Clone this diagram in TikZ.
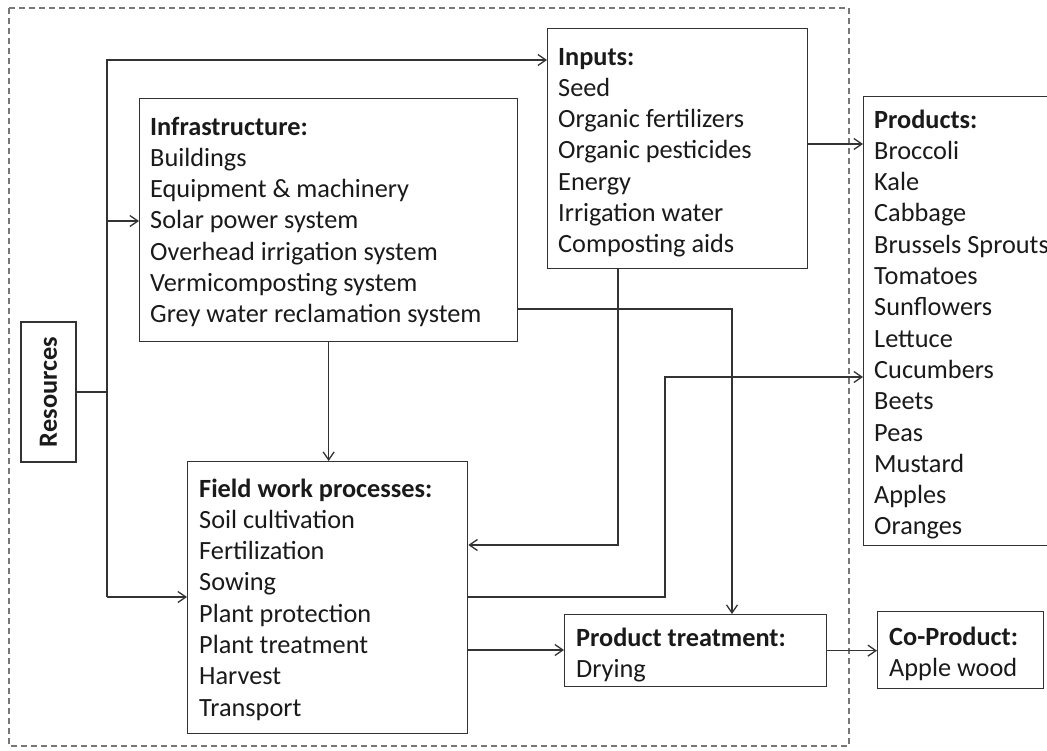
\documentclass[tikz,border=0pt]{standalone}
\usepackage{fontspec}
\setmainfont{Carlito}
\usetikzlibrary{arrows.meta}

% left-aligned stack of lines; the baseline is that of the first line
\newcommand\stack[1]{\vtop{\baselineskip=31.3pt\lineskiplimit=-100pt\halign{##\hfil\cr#1\crcr}}}

\definecolor{ink}{HTML}{1A1A1A}
\definecolor{frame}{HTML}{333333}
\definecolor{bordergray}{HTML}{777777}

\begin{document}
\begin{tikzpicture}[x=1pt,y=-1pt,
  box/.style={draw=frame, line width=1.3pt, inner sep=0pt, fill=white},
  txt/.style={inner sep=0pt, anchor=base west, text=ink, font=\fontsize{26.3}{31.3}\selectfont},
  line/.style={draw=frame, line width=1.3pt},
  arr/.style={line, -{Straight Barb[length=8pt,width=11pt,line width=1.3pt]}},
  border/.style={draw=bordergray, line width=1.3pt, dash pattern=on 6pt off 4pt}]

\useasboundingbox (0,0) rectangle (1047,750);

% system boundary
\draw[border] (9,8) rectangle (849,746);

% boxes
\node[box, minimum width=55, minimum height=140, text=ink,
      font=\fontsize{26.3}{30}\selectfont\bfseries] (res) at (48.5,392)
      {\rotatebox{90}{Resources}};
\node[box, minimum width=378, minimum height=243, anchor=north west] (infra) at (139,98) {};
\node[box, minimum width=260, minimum height=240, anchor=north west] (inputs) at (547,28) {};
\node[box, minimum width=187, minimum height=449, anchor=north west] (prod) at (863,96) {};
\node[box, minimum width=280, minimum height=272, anchor=north west] (field) at (187,461) {};
\node[box, minimum width=262, minimum height=72, anchor=north west] (pt) at (564,614) {};
\node[box, minimum width=166, minimum height=77, anchor=north west] (co) at (877,611) {};

% box contents
\node[txt] (infra-text) at (150,135) {\stack{\textbf{Infrastructure:}\cr Buildings\cr
  Equipment \& machinery\cr Solar power system\cr Overhead irrigation system\cr
  Vermicomposting system\cr Grey water reclamation system}};
\node[txt] (inputs-text) at (558,65) {\stack{\textbf{Inputs:}\cr Seed\cr
  Organic fertilizers\cr Organic pesticides\cr Energy\cr Irrigation water\cr
  Composting aids}};
\node[txt] (prod-text) at (874,128) {\stack{\textbf{Products:}\cr Broccoli\cr Kale\cr
  Cabbage\cr Brussels Sprouts\cr Tomatoes\cr Sunflowers\cr Lettuce\cr Cucumbers\cr
  Beets\cr Peas\cr Mustard\cr Apples\cr Oranges}};
\node[txt] (field-text) at (199,497) {\stack{\textbf{Field work processes:}\cr
  Soil cultivation\cr Fertilization\cr Sowing\cr Plant protection\cr
  Plant treatment\cr Harvest\cr Transport}};
\node[txt] (pt-text) at (576,646) {\stack{\textbf{Product treatment:}\cr Drying}};
\node[txt] (co-text) at (889,645) {\stack{\textbf{Co-Product:}\cr Apple wood}};

% routing points
\coordinate (trunk) at (107,392);
\coordinate (t-top) at (107,60);
\coordinate (t-mid) at (107,221);
\coordinate (t-bot) at (107,597);
\coordinate (in-drop) at (618,545);
\coordinate (gw) at (732,309);
\coordinate (fp1) at (665,597);
\coordinate (fp2) at (665,377);
\coordinate (fpt) at (467,650);
\coordinate (ip) at (807,144);

% resources feed
\draw[line] (res.east) -- (trunk);
\draw[arr] (t-bot) -- (t-top) -- (t-top -| inputs.west);
\draw[arr] (t-mid) -- (t-mid -| infra.west);
\draw[arr] (t-bot) -- (t-bot -| field.west);

% flows between boxes
\draw[arr] (infra.south) -- (infra.south |- field.north);
\draw[arr] (inputs.south -| in-drop) -- (in-drop) -- (in-drop -| field.east);
\draw[arr] (infra.east |- gw) -- (gw) -- (gw |- pt.north);
\draw[arr] (field.east |- fp1) -- (fp1) -- (fp2) -- (fp2 -| prod.west);
\draw[arr] (field.east |- fpt) -- (fpt -| pt.west);
\draw[arr] (inputs.east |- ip) -- (ip -| prod.west);
\draw[arr] (pt.east) -- (pt.east -| co.west);

\end{tikzpicture}
\end{document}
